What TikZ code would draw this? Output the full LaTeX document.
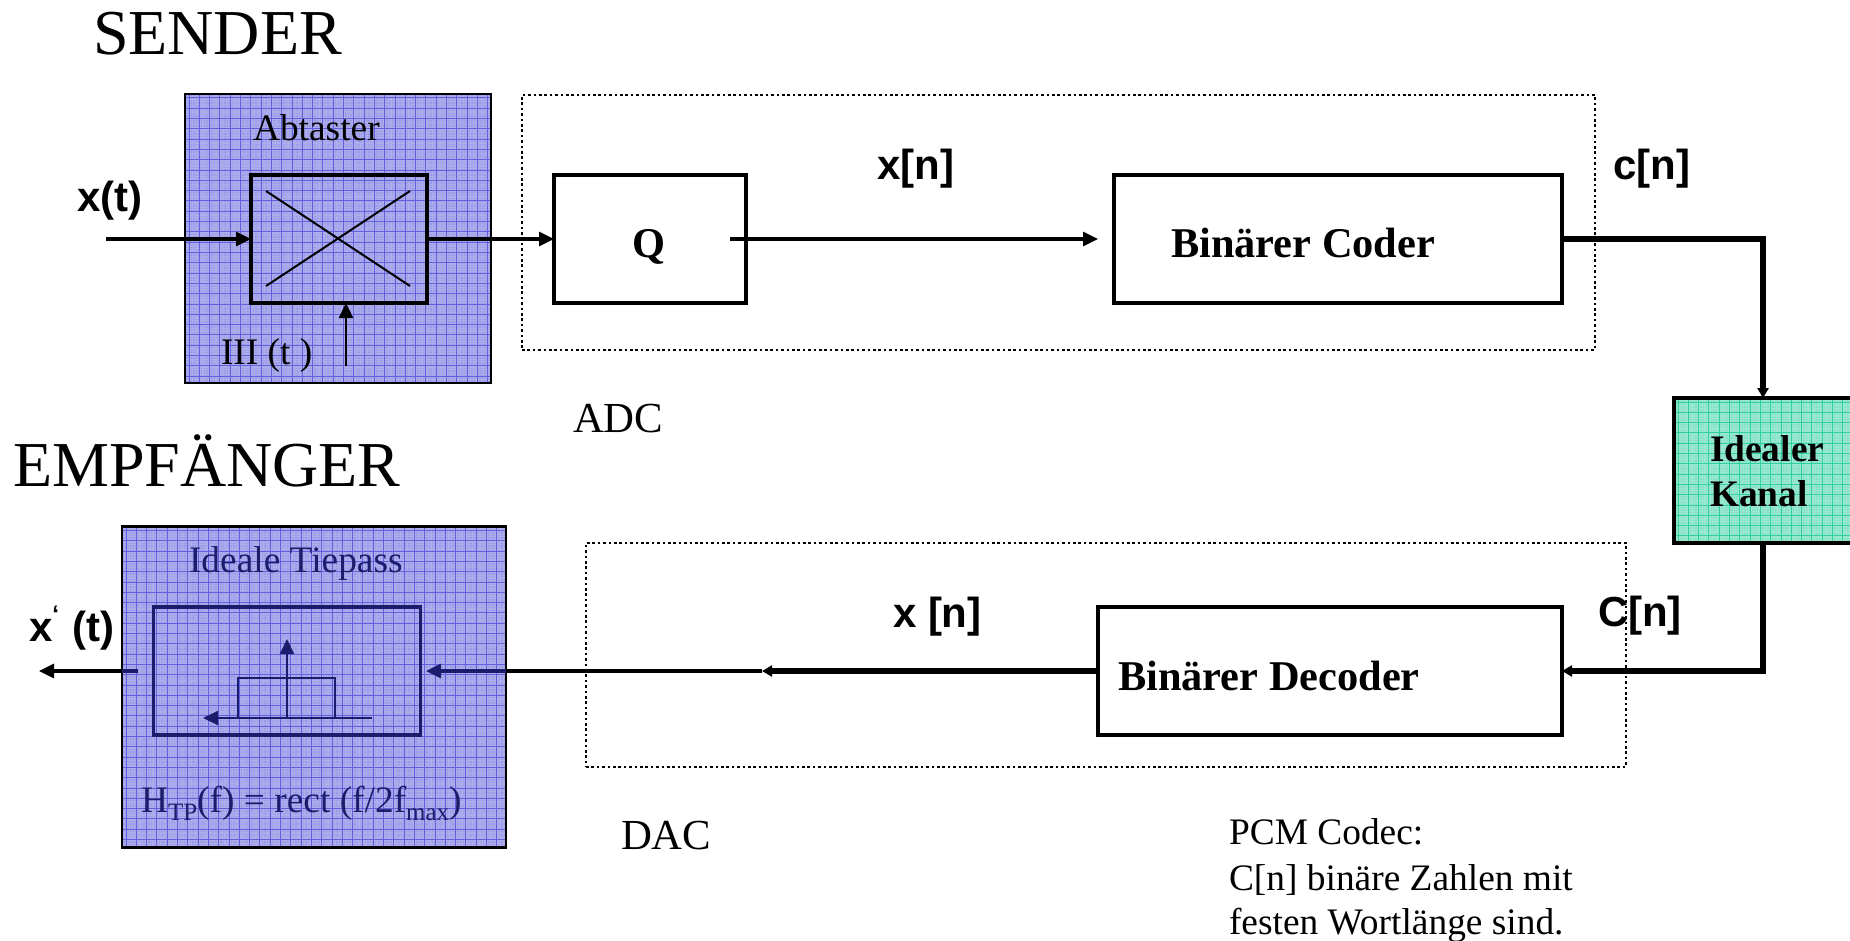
\documentclass[tikz,border=0pt]{standalone}
\usepackage{fontspec}
\setmainfont{Liberation Serif}
\newfontfamily\arialfont{Liberation Sans}
\usetikzlibrary{arrows.meta}
\definecolor{violetfill}{HTML}{9A9AE6}
\definecolor{violetfine}{HTML}{ACACEC}
\definecolor{violetline}{HTML}{6060DE}
\definecolor{greenfill}{HTML}{84E0C4}
\definecolor{greenfine}{HTML}{98E8D0}
\definecolor{greenline}{HTML}{30CFA0}
\definecolor{navy}{HTML}{1C1C6C}
\newcommand{\lowsub}[1]{\raisebox{-.22em}{\fontsize{12.5}{12.5}\selectfont #1}}
\tikzset{
  plain/.style={inner sep=0pt,outer sep=0pt},
  gridlines/.style 2 args={path picture={
    \foreach \k in {0,...,160}{
      \draw[#2,line width=.6pt] ([xshift=\k*1.2875pt]path picture bounding box.south west) -- ([xshift=\k*1.2875pt]path picture bounding box.north west);
      \draw[#2,line width=.6pt] ([yshift=-\k*1.2875pt]path picture bounding box.north west) -- ([yshift=-\k*1.2875pt]path picture bounding box.north east);
    }
    \foreach \k in {0,...,40}{
      \draw[#1,line width=.5pt] ([xshift=\k*5.15pt+2pt]path picture bounding box.south west) -- ([xshift=\k*5.15pt+2pt]path picture bounding box.north west);
      \draw[#1,line width=.5pt] ([yshift=-\k*5.15pt-2pt]path picture bounding box.north west) -- ([yshift=-\k*5.15pt-2pt]path picture bounding box.north east);
    }}},
  gridbox/.style n args={3}{plain,draw=black,line width=1.4pt,fill=#1,gridlines={#2}{#3}},
  whitebox/.style={plain,draw=black,line width=1.8pt,fill=white},
  dotbox/.style={plain,draw=black,line width=1.3pt,dash pattern=on 1.3pt off 1.4pt},
  inbox/.style={plain,draw=black,line width=1.9pt},
  sz/.style 2 args={minimum width=#1*.5pt,minimum height=#2*.5pt},
  big/.style={plain,anchor=base west,font=\fontsize{32}{36}\selectfont},
  mid/.style={plain,anchor=base west,font=\fontsize{21.4}{25}\selectfont},
  smalltxt/.style={plain,anchor=base west,font=\fontsize{18.7}{22}\selectfont},
  boldtxt/.style={plain,anchor=base west,font=\fontsize{21.2}{25}\selectfont\bfseries},
  sans/.style={plain,anchor=base west,font=\fontsize{21}{25}\selectfont\arialfont\bfseries},
  kanaltxt/.style={plain,anchor=base west,font=\fontsize{18.7}{22}\selectfont\bfseries},
  thin/.style={line width=1.6pt},
  thick/.style={line width=2.6pt},
  arr/.style={-{Triangle[length=7.5pt,width=7pt]}},
  arrs/.style={-{Triangle[length=5pt,width=5.5pt]}},
}
\begin{document}
\begin{tikzpicture}[x=.5pt,y=-.5pt]
\useasboundingbox (0,0) rectangle (1850,941);
% dotted converter frames
\node[dotbox,sz={1073}{255}] (adc) at (1058.5,222.5) {};
\node[dotbox,sz={1040}{224}] (dac) at (1106,655) {};
% sender
\node[gridbox={violetfill}{violetline}{violetfine},sz={306}{289}] (sampler) at (338,238.5) {};
\node[inbox,sz={176}{128}] (mult) at (339,239) {};
\coordinate (xa) at (266,191); \coordinate (xb) at (410,286);
\coordinate (xc) at (266,286); \coordinate (xd) at (410,191);
\draw[line width=1pt] (xa) -- (xb) (xc) -- (xd);
\node[smalltxt] (abt) at (253,141) {Abtaster};
\node[smalltxt] (iii) at (221,364) {III (t )};
\coordinate (clk) at (346,366);
\draw[line width=1.2pt,arr] (clk) -- (clk |- mult.south);
\coordinate (xin) at (106,239);
\draw[thin,arr] (xin) -- (mult.west);
\node[whitebox,sz={192}{128}] (q) at (650,239) {};
\node[whitebox,sz={448}{128}] (coder) at (1338,239) {};
\node[boldtxt] (qt) at (632,257) {Q};
\node[boldtxt] (codert) at (1171,257) {Binärer Coder};
\draw[thin,arr] (mult.east) -- (q.west);
\coordinate (qout) at (730,239); \coordinate (qend) at (1098,239);
\draw[thin,arr] (qout) -- (qend);
% channel
\node[gridbox={greenfill}{greenline}{greenfine},line width=1.8pt,sz={178}{145},xshift=.5pt] (kanal) at (1762,470.5) {};
\node[kanaltxt] (k1) at (1710,461) {Idealer};
\node[kanaltxt] (k2) at (1710,506) {Kanal};
\draw[thick,arrs] (coder.east) -| (kanal.north);
% receiver
\node[whitebox,sz={464}{128}] (decoder) at (1330,671) {};
\node[boldtxt] (decodert) at (1118,690) {Binärer Decoder};
\draw[thick,arrs] (kanal.south) |- (decoder.east);
\coordinate (dacmid) at (762,671);
\draw[thick,arrs] (decoder.west) -- (dacmid);
\node[gridbox={violetfill}{violetline}{violetfine},line width=1.4pt,sz={384}{321}] (lowpass) at (314,687) {};
\draw[thin] (dacmid) -- (lowpass.east |- dacmid);
\coordinate (lpin) at (426,671);
\draw[thin,navy,arr] (lowpass.east |- dacmid) -- (lpin);
\coordinate (lpout) at (138,671); \coordinate (xout) at (39,671);
\draw[thin,navy] (lpout) -- (lowpass.west |- lpout);
\draw[thin,arr] (lowpass.west |- lpout) -- (xout);
\node[inbox,draw=navy,sz={267}{128}] (filter) at (287,671) {};
\node[plain,draw=navy,line width=.9pt,sz={97}{40}] (rect) at (286.5,698) {};
\coordinate (axr) at (372,718); \coordinate (axl) at (203,718);
\coordinate (axb) at (287,718); \coordinate (axt) at (287,639);
\draw[navy,line width=1pt,arr] (axr) -- (axl);
\draw[navy,line width=1pt,arr] (axb) -- (axt);
\node[smalltxt,text=navy] (ideal) at (189,572) {Ideale Tiepass};
\node[smalltxt,text=navy] (htp) at (141,812) {H\lowsub{TP}(f) = rect (f/2f\lowsub{max})};
% frame labels
\node[big] (sender) at (93,55) {SENDER};
\node[big] (empf) at (13,486) {EMPFÄNGER};
\node[mid] (adct) at (573,432) {ADC};
\node[mid] (dact) at (621,849) {DAC};
\node[smalltxt] (p1) at (1229,844) {PCM Codec:};
\node[smalltxt] (p2) at (1229,890) {C[n] binäre Zahlen mit};
\node[smalltxt] (p3) at (1229,934) {festen Wortlänge sind.};
\node[sans] (lx) at (77,212) {x(t)};
\node[sans] (lxn) at (877,180) {x[n]};
\node[sans] (lcn) at (1613,180) {c[n]};
\node[sans] (lxn2) at (893,627) {x [n]};
\node[sans] (lcn2) at (1598,626) {C[n]};
\node[sans] (lxo) at (29,641) {x\raisebox{.45em}{\fontsize{12}{12}\selectfont ‘}\hspace{.04em} (t)};
\end{tikzpicture}
\end{document}
